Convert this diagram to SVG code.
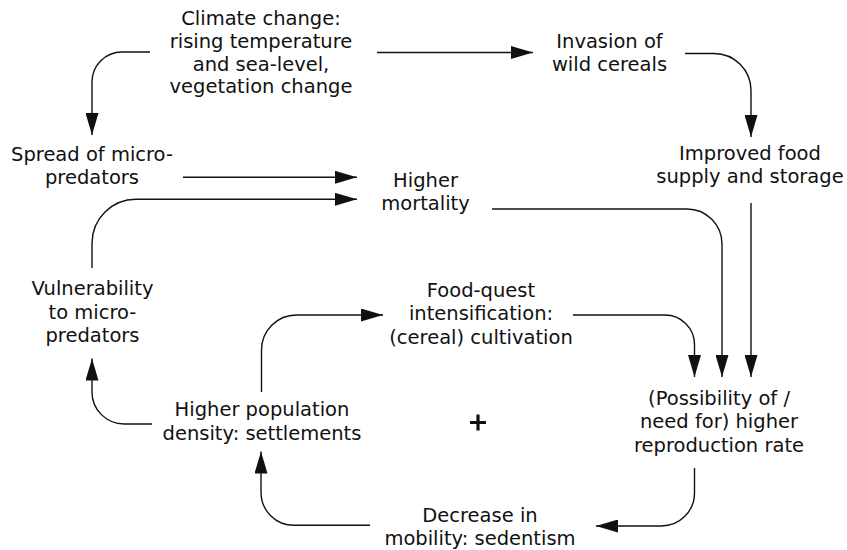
<svg xmlns="http://www.w3.org/2000/svg" width="847" height="550" viewBox="0 0 847 550">
<defs>
<style>
text{font-family:"DejaVu Sans","Liberation Sans",sans-serif;font-size:19.5px;fill:#111;text-anchor:middle}
.c{fill:none;stroke:#111;stroke-width:1.4;marker-end:url(#ah)}
</style>
<marker id="ah" viewBox="0 0 22 13" refX="22" refY="6.5" markerWidth="22" markerHeight="13" markerUnits="userSpaceOnUse" orient="auto">
<path d="M0,0 L22,6.5 L0,13 Z" fill="#111"/>
</marker>
</defs>
<rect width="847" height="550" fill="#fff"/>
<g id="connectors">
<path class="c" d="M150,52 H122 A30,30 0 0 0 92,82 V135"/>
<path class="c" d="M377,52.5 H533"/>
<path class="c" d="M685,53.5 H714 A37,37 0 0 1 751,90.5 V137"/>
<path class="c" d="M183,177.3 H357"/>
<path class="c" d="M92,268 V243 A44,44 0 0 1 136,199.3 H357"/>
<path class="c" d="M492,209 H687 A35,35 0 0 1 722,244 V377"/>
<path class="c" d="M751,203 V377"/>
<path class="c" d="M573,315 H665 A29.5,29.5 0 0 1 694.5,344.5 V377"/>
<path class="c" d="M694.5,468 V493 A33,33 0 0 1 661.5,526 H596"/>
<path class="c" d="M370,525.3 H294 A33,33 0 0 1 261,492.3 V451.5"/>
<path class="c" d="M261.5,392 V350 A35,35 0 0 1 296.5,315 H383"/>
<path class="c" d="M152,424 H124 A32,32 0 0 1 92,392 V358.5"/>
</g>
<g id="climate"><text x="261" y="25"><tspan x="261">Climate change:</tspan><tspan x="261" dy="22.8">rising temperature</tspan><tspan x="261" dy="22.8">and sea-level,</tspan><tspan x="261" dy="22.8">vegetation change</tspan></text></g>
<g id="invasion"><text x="609.5" y="47.7"><tspan x="609.5">Invasion of</tspan><tspan x="609.5" dy="23">wild cereals</tspan></text></g>
<g id="spread"><text x="92" y="160.7"><tspan x="92">Spread of micro-</tspan><tspan x="92" dy="23">predators</tspan></text></g>
<g id="mortality"><text x="425.5" y="187"><tspan x="425.5">Higher</tspan><tspan x="425.5" dy="23">mortality</tspan></text></g>
<g id="food"><text x="750" y="159.5"><tspan x="750">Improved food</tspan><tspan x="750" dy="23.5">supply and storage</tspan></text></g>
<g id="vulnerability"><text x="92.5" y="295"><tspan x="92.5">Vulnerability</tspan><tspan x="92.5" dy="23.5">to micro-</tspan><tspan x="92.5" dy="23.5">predators</tspan></text></g>
<g id="foodquest"><text x="481" y="296.7"><tspan x="481">Food-quest</tspan><tspan x="481" dy="23.4">intensification:</tspan><tspan x="481" dy="23.4">(cereal) cultivation</tspan></text></g>
<g id="population"><text x="262" y="416"><tspan x="262">Higher population</tspan><tspan x="262" dy="23.5">density: settlements</tspan></text></g>
<g id="reproduction"><text x="719" y="405"><tspan x="719">(Possibility of /</tspan><tspan x="719" dy="23.4">need for) higher</tspan><tspan x="719" dy="23.4">reproduction rate</tspan></text></g>
<g id="sedentism"><text x="480" y="521.7"><tspan x="480">Decrease in</tspan><tspan x="480" dy="23.3">mobility: sedentism</tspan></text></g>
<g id="plus"><path d="M478,414.5 V430.5 M470,422.5 H486" stroke="#111" stroke-width="3.2" fill="none"/></g>
</svg>
